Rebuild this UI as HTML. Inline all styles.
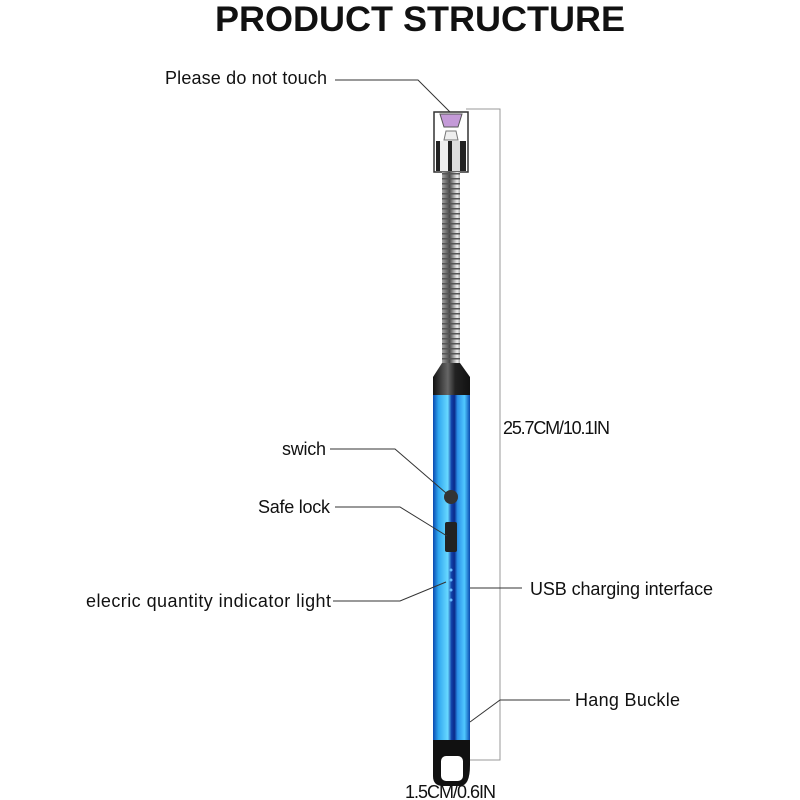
<!DOCTYPE html>
<html><head><meta charset="utf-8"><style>
body{margin:0;background:#fff;}
svg{display:block;}
text{font-family:"Liberation Sans",sans-serif;fill:#111;}
</style></head><body>
<svg width="800" height="800" viewBox="0 0 800 800">
<defs>
<linearGradient id="blue" x1="0" x2="1" y1="0" y2="0">
<stop offset="0" stop-color="#0a4ab0"/><stop offset="0.15" stop-color="#30a8f0"/><stop offset="0.4" stop-color="#68d8ff"/><stop offset="0.5" stop-color="#1040a8"/><stop offset="0.58" stop-color="#0a2a8a"/><stop offset="0.66" stop-color="#2a90e8"/><stop offset="0.85" stop-color="#50c8ff"/><stop offset="1" stop-color="#0a4ab0"/>
</linearGradient>
<linearGradient id="metal" x1="0" x2="1"><stop offset="0" stop-color="#555"/><stop offset="0.4" stop-color="#eee"/><stop offset="0.6" stop-color="#999"/><stop offset="1" stop-color="#444"/></linearGradient>
<linearGradient id="black" x1="0" x2="1"><stop offset="0" stop-color="#111"/><stop offset="0.4" stop-color="#666"/><stop offset="0.6" stop-color="#222"/><stop offset="1" stop-color="#111"/></linearGradient>
<pattern id="coil" width="18" height="5" patternUnits="userSpaceOnUse"><rect width="18" height="5" fill="url(#metal)"/><rect y="3" width="18" height="1.5" fill="#555"/></pattern>
</defs>
<text x="420" y="31" font-size="35" font-weight="bold" text-anchor="middle" textLength="410" lengthAdjust="spacingAndGlyphs">PRODUCT STRUCTURE</text>

<rect x="434" y="112" width="34" height="60" fill="#fff" stroke="#333" stroke-width="1.5"/>
<rect x="436" y="141" width="30" height="30" fill="#222"/>
<rect x="440" y="141" width="8" height="30" fill="#eee"/><rect x="452" y="141" width="8" height="30" fill="#ddd"/>
<path d="M440 114 L462 114 L458 127 L444 127 Z" fill="#c49ad8" stroke="#555"/>
<path d="M446 131 L456 131 L458 140 L444 140 Z" fill="#eee" stroke="#777"/>
<rect x="442" y="172" width="18" height="192" fill="url(#coil)"/>
<path d="M442 363 L460 363 L470 377 L470 396 L433 396 L433 377 Z" fill="url(#black)"/>
<rect x="433" y="395" width="37" height="348" fill="url(#blue)"/>
<circle cx="451" cy="497" r="7" fill="#333"/>
<rect x="445" y="522" width="12" height="30" rx="2" fill="#222"/>
<g fill="#6bf"><circle cx="451" cy="570" r="1.5"/><circle cx="451" cy="580" r="1.5"/><circle cx="451" cy="590" r="1.5"/><circle cx="451" cy="600" r="1.5"/></g>
<path d="M433 740 L470 740 L470 765 Q470 786 460 786 L443 786 Q433 786 433 776 Z" fill="#111"/>
<rect x="441" y="756" width="22" height="25" rx="5" fill="#fff"/>

<g stroke="#999" stroke-width="1" fill="none">
<path d="M466 109 H500 V760 H470"/>
</g>
<g stroke="#333" stroke-width="1" fill="none">
<path d="M335 80 H418 L450 112"/>
<path d="M330 449 H395 L446 493"/>
<path d="M335 507 H400 L447 536"/>
<path d="M333 601 H400 L446 582"/>
<path d="M470 588 H522"/>
<path d="M570 700 H500 L470 722"/>
</g>
<g font-size="18" lengthAdjust="spacingAndGlyphs">
<text x="165" y="84" textLength="162">Please do not  touch</text>
<text x="282" y="455" textLength="44">swich</text>
<text x="258" y="513" textLength="72">Safe lock</text>
<text x="86" y="607" textLength="245">elecric quantity  indicator light</text>
<text x="530" y="595" textLength="183">USB charging interface</text>
<text x="575" y="706" textLength="105">Hang  Buckle</text>
<text x="503" y="434" textLength="107">25.7CM/10.1IN</text>
<text x="405" y="798" textLength="91">1.5CM/0.6IN</text>
</g>
</svg>
</body></html>
